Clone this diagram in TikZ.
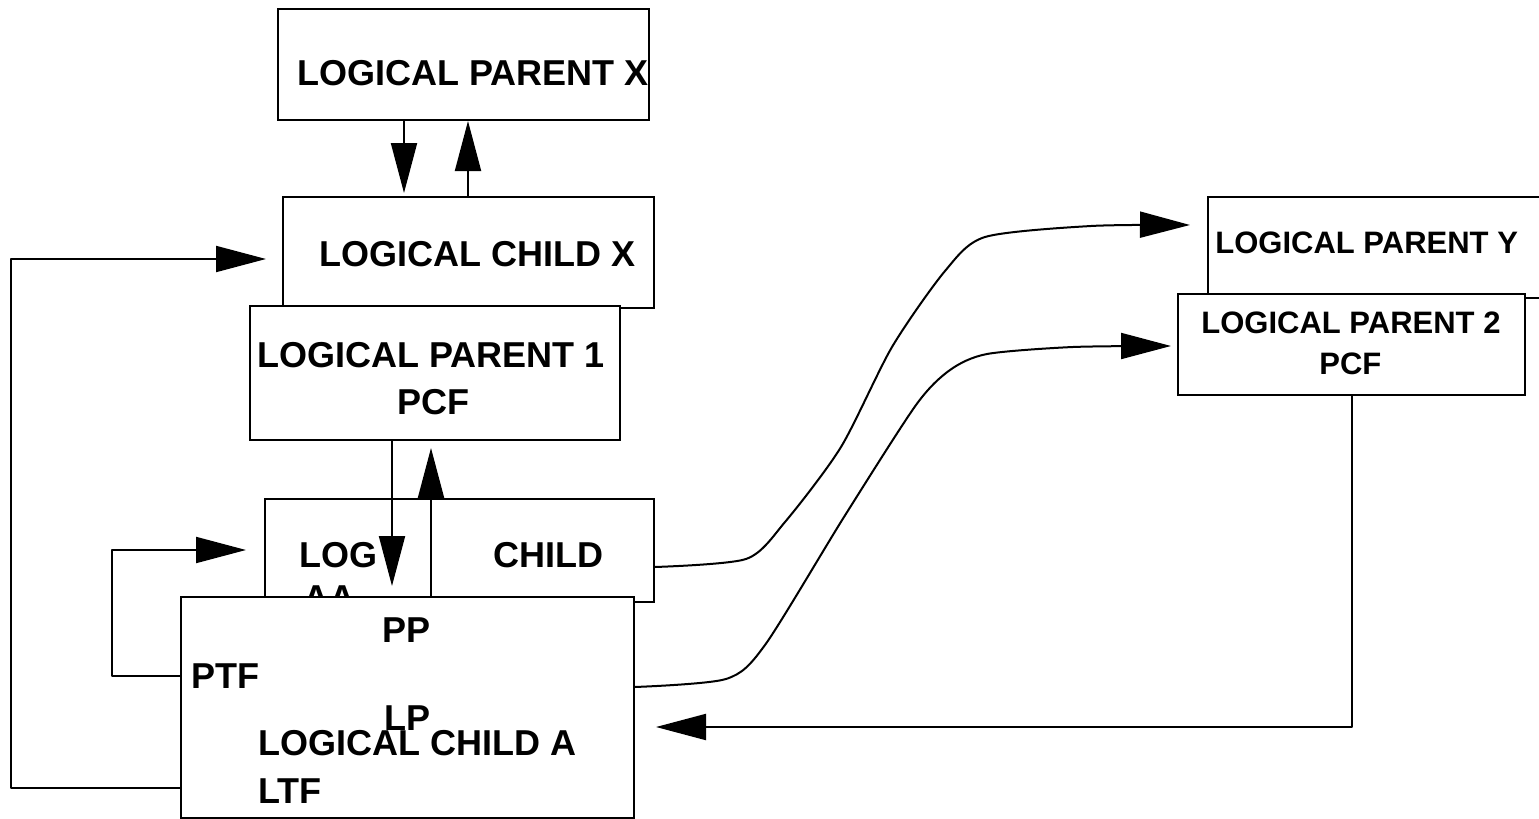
\documentclass[tikz,border=0pt]{standalone}
\usepackage{fontspec}
\setmainfont{Liberation Sans}
\usetikzlibrary{arrows.meta,fit,calc}

\begin{document}
\begin{tikzpicture}[x=0.5pt,y=-0.5pt,
  box/.style={draw, line width=1pt, fill=white, inner sep=0pt, rectangle},
  lbl/.style={font=\bfseries\fontsize{18}{21}\selectfont, inner sep=0pt, anchor=base west},
  slbl/.style={font=\bfseries\fontsize{15.5}{18}\selectfont, inner sep=0pt, anchor=base west},
  arr/.style={line width=1pt, line join=round, -{Triangle[length=25pt,width=13pt]}}]

\clip (0,0) rectangle (1539,819);
\fill[white] (0,0) rectangle (1539,819);

% upper chain: logical parent X, logical child X, logical parent 1
\node[box, fit={(278,9) (649,120)}] (lpx) {};
\node[lbl] (tlpx) at (297,85) {LOGICAL PARENT X};
\node[box, fit={(283,197) (654,308)}] (lcx) {};
\node[lbl] (tlcx) at (319,266) {LOGICAL CHILD X};
\node[box, fit={(250,306) (620,440)}] (lp1) {};
\node[lbl] (tlp1) at (257,367) {LOGICAL PARENT 1};
\node[lbl] (tpcf1) at (397,414) {PCF};

% right side: logical parent Y behind logical parent 2
\node[box, fit={(1208,197) (1560,298)}] (lpy) {};
\node[slbl] (tlpy) at (1215,253) {LOGICAL PARENT Y};
\node[box, fit={(1178,294) (1525,395)}] (lp2) {};
\node[slbl] (tlp2) at (1201,333) {LOGICAL PARENT 2};
\node[slbl] (tpcf2) at (1319,374) {PCF};

% child segment partly covered by logical child A
\node[box, fit={(265,499) (654,602)}] (cbox) {};
\node[lbl] (tlog) at (299,567) {LOG};
\node[lbl] (taa) at (303,610) {AA};
\node[lbl] (tchild) at (493,567) {CHILD};

\node[box, fit={(181,597) (634,818)}] (lca) {};
\node[lbl] (tpp) at (382,642) {PP};
\node[lbl] (tptf) at (191,688) {PTF};
\node[lbl] (tlp) at (384,730) {LP};
\node[lbl] (tlca) at (258,755) {LOGICAL CHILD A};
\node[lbl] (tltf) at (258,803) {LTF};

% vertical pointer pairs
\draw[arr, shorten >=1.5pt] (lpx.south -| 404,0) -- (lcx.north -| 404,0);
\draw[arr] (lcx.north -| 468,0) -- (lpx.south -| 468,0);
\draw[arr, shorten >=5pt] (lp1.south -| 392,0) -- (lca.north -| 392,0);
\draw[arr, shorten >=3.5pt] (lca.north -| 431,0) -- (lp1.south -| 431,0);

% loops on the left
\draw[arr, shorten >=8pt] (lca.west |- 0,788) -- (11,788) -- (11,259) -- (lcx.west |- 0,259);
\draw[arr, shorten >=9pt] (lca.west |- 0,676) -- (112,676) -- (112,550) -- (cbox.west |- 0,550);

% curved pointers to the right-hand parents
\coordinate (c1s) at (cbox.east |- 0,567);
\coordinate (c1e) at (1190,225);
\draw[arr] plot[smooth, tension=0.45] coordinates {(c1s) (746,559) (785,522) (841,447) (892,347) (945,271) (985,237) (1091,226) (c1e)};
\coordinate (c2s) at (lca.east |- 0,687);
\coordinate (c2e) at (1171,346);
\draw[arr] plot[smooth, tension=0.45] coordinates {(c2s) (726,679) (765,645) (844,517) (916,405) (950,370) (987,354) (1073,347) (c2e)};

% logical parent 2 back to logical child A
\draw[arr, shorten >=10.5pt] (lp2.south -| 1352,0) -- (1352,727) -- (lca.east |- 0,727);

\end{tikzpicture}
\end{document}
